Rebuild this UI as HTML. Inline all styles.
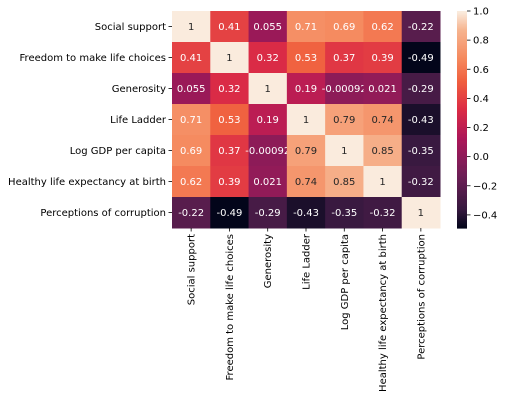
<!DOCTYPE html>
<html><head><meta charset="utf-8"><style>
body{margin:0;background:#fff;}
svg text{font-family:"DejaVu Sans","Liberation Sans",sans-serif;font-size:10px;}
</style></head><body>
<svg id="chart" width="505" height="400"></svg>
<script>
const labels=["Social support","Freedom to make life choices","Generosity","Life Ladder","Log GDP per capita","Healthy life expectancy at birth","Perceptions of corruption"];
const values=[
[1,0.41,0.055,0.71,0.69,0.62,-0.22],
[0.41,1,0.32,0.53,0.37,0.39,-0.49],
[0.055,0.32,1,0.19,-0.00092,0.021,-0.29],
[0.71,0.53,0.19,1,0.79,0.74,-0.43],
[0.69,0.37,-0.00092,0.79,1,0.85,-0.35],
[0.62,0.39,0.021,0.74,0.85,1,-0.32],
[-0.22,-0.49,-0.29,-0.43,-0.35,-0.32,1]];
const cbTicks=[1.0,0.8,0.6,0.4,0.2,0.0,-0.2,-0.4];
const cbTickLabels=["1.0","0.8","0.6","0.4","0.2","0.0","\u22120.2","\u22120.4"];
const vmin=-0.49,vmax=1;
const L=172,R=440,T=11,B=228;
const stops=[[0,"#03051a"],[0.083,"#35193e"],[0.25,"#701f57"],[0.417,"#ad1759"],[0.55,"#dc2c45"],[0.68,"#f0603f"],[0.78,"#f5875c"],[0.917,"#f6b48f"],[1,"#faebdd"]];
function hex(h){return [1,3,5].map(i=>parseInt(h.substr(i,2),16));}
function cmap(t){t=Math.max(0,Math.min(1,t));for(let i=1;i<stops.length;i++){if(t<=stops[i][0]){const a=stops[i-1],b=stops[i];const f=(t-a[0])/(b[0]-a[0]);const ca=hex(a[1]),cb=hex(b[1]);return ca.map((v,k)=>Math.round(v+(cb[k]-v)*f));}}return hex(stops[stops.length-1][1]);}
function relLum(c){const l=c.map(v=>{v/=255;return v<=0.03928?v/12.92:Math.pow((v+0.055)/1.055,2.4);});return 0.2126*l[0]+0.7152*l[1]+0.0722*l[2];}
const n=labels.length,cw=(R-L)/n,ch=(B-T)/n;
const xs=i=>L+i*cw, ys=i=>T+i*ch;
const svg=document.getElementById('chart');const NS="http://www.w3.org/2000/svg";
function mk(tag,attrs,parent){const e=document.createElementNS(NS,tag);for(const k in attrs)e.setAttribute(k,attrs[k]);(parent||svg).appendChild(e);return e;}
for(let r=0;r<n;r++)for(let c=0;c<n;c++){
 const v=values[r][c];const col=cmap((v-vmin)/(vmax-vmin));
 const rect=mk('rect',{x:xs(c),y:ys(r),width:cw+0.5,height:ch+0.5,fill:`rgb(${col})`});
 
 
 const t=mk('text',{x:xs(c)+cw/2,y:ys(r)+ch/2+3.5,'text-anchor':'middle',fill:relLum(col)<0.408?'#fff':'#262626'});
 t.textContent=String(v);
 
 
}
for(let i=0;i<n;i++){
 const y=ys(i)+ch/2;
 mk('line',{x1:L-3.5,x2:L,y1:y,y2:y,stroke:'#000','stroke-width':0.8});
 const t=mk('text',{x:L-6,y:y+3.5,'text-anchor':'end',fill:'#000'});t.textContent=labels[i];
 
 
 const x=xs(i)+cw/2;
 mk('line',{x1:x,x2:x,y1:B,y2:B+3.5,stroke:'#000','stroke-width':0.8});
 const tx=mk('text',{x:0,y:0,'text-anchor':'end',fill:'#000',transform:`translate(${x+3.5},${B+6}) rotate(-90)`});tx.textContent=labels[i];
 
 
}
const CL=457,CR=467;
const cy=v=>T+(vmax-v)/(vmax-vmin)*(B-T);
for(let k=0;k<200;k++){const v0=vmin+(vmax-vmin)*k/200,v1=vmin+(vmax-vmin)*(k+1)/200;
 const col=cmap(k/199);
 const r=mk('rect',{x:CL,y:cy(v1),width:CR-CL,height:cy(v0)-cy(v1)+0.6,fill:`rgb(${col})`});
 
 }
cbTicks.forEach((v,i)=>{const y=cy(v);
 mk('line',{x1:CR,x2:CR+3.5,y1:y,y2:y,stroke:'#000','stroke-width':0.8});
 const t=mk('text',{x:CR+6,y:y+3.5,fill:'#000'});t.textContent=cbTickLabels[i];
 
 });
</script>
</body></html>
